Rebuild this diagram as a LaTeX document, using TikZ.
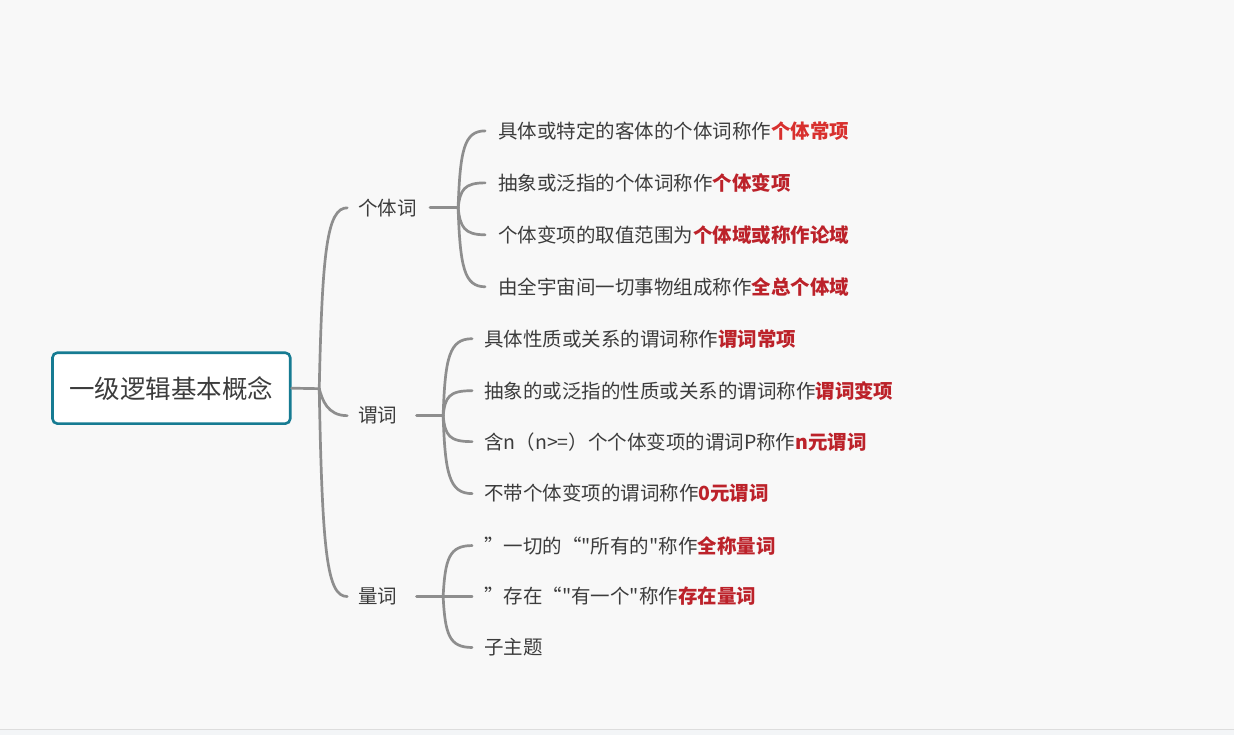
\documentclass[tikz,border=0pt]{standalone}
\usepackage{fontspec}
\setmainfont{Noto Sans CJK SC}[Ligatures=TeXOff]
\definecolor{bg}{HTML}{F8F8F8}
\definecolor{bar}{HTML}{F3F5F7}
\definecolor{barline}{HTML}{DDDDDD}
\definecolor{lineg}{HTML}{8E8E8E}
\definecolor{teal1}{HTML}{167B92}
\definecolor{txt}{HTML}{3C3C3C}
\definecolor{redA}{HTML}{D8302E}
\definecolor{redB}{HTML}{BC222A}
\newcommand\ra[1]{{\bfseries\color{redA}#1}}
\newcommand\rb[1]{{\bfseries\color{redB}#1}}
\begin{document}
\begin{tikzpicture}[x=1pt,y=-1pt,
  conn/.style={draw=lineg,line width=2.7pt,line cap=round},
  rootbox/.style={draw=teal1,line width=2.6pt,fill=white,rounded corners=5pt,minimum width=238pt,minimum height=71pt,font=\fontsize{25.5}{30}\selectfont,text=txt},
  topic/.style={anchor=west,inner xsep=11pt,inner ysep=2pt,font=\fontsize{19.5}{23}\selectfont,text=txt},
  leafA/.style={anchor=west,inner xsep=13pt,inner ysep=2pt,font=\fontsize{19.5}{23}\selectfont,text=txt},
  leafB/.style={anchor=west,inner xsep=12pt,inner ysep=2pt,font=\fontsize{19.5}{23}\selectfont,text=txt}]
\fill[bg] (0,0) rectangle (1234,736);
\fill[bar] (0,730) rectangle (1234,736);
\draw[barline,line width=1pt] (0,730.5) -- (1234,730.5);
\useasboundingbox (0,0) rectangle (1234,736);

\node[rootbox] (root) at (171,388.5) {一级逻辑基本概念};
\coordinate (j0) at (319,389);
\node[topic] (t1) at (347,208) {个体词};
\node[topic] (t2) at (347,416) {谓词};
\node[topic] (t3) at (347,597) {量词};

\draw[conn] (root.east) -- (j0);
\draw[conn] (j0) .. controls (322,250) and (327,208) .. (t1.west);
\draw[conn] (j0) .. controls (322,400) and (327,416) .. (t2.west);
\draw[conn] (j0) .. controls (322,555) and (327,597) .. (t3.west);

% group 1
\coordinate (j1) at (458,208);
\node[leafA] (a1) at (485,131) {具体或特定的客体的个体词称作\ra{个体常项}};
\node[leafA] (a2) at (485,183) {抽象或泛指的个体词称作\rb{个体变项}};
\node[leafA] (a3) at (485,235) {个体变项的取值范围为\rb{个体域或称作论域}};
\node[leafA] (a4) at (485,287) {由全宇宙间一切事物组成称作\rb{全总个体域}};
\draw[conn] ([xshift=2pt]t1.east) -- (j1);
\draw[conn] (j1) .. controls (460,150) and (464,131) .. (a1.west);
\draw[conn] (j1) .. controls (460,190) and (464,183) .. (a2.west);
\draw[conn] (j1) .. controls (460,227) and (464,235) .. (a3.west);
\draw[conn] (j1) .. controls (460,267) and (464,287) .. (a4.west);

% group 2
\coordinate (j2) at (443,416);
\node[leafB] (b1) at (472,339) {具体性质或关系的谓词称作\rb{谓词常项}};
\node[leafB] (b2) at (472,391) {抽象的或泛指的性质或关系的谓词称作\rb{谓词变项}};
\node[leafB] (b3) at (472,442) {含n（n>=）个个体变项的谓词P称作\rb{n元谓词}};
\node[leafB] (b4) at (472,494) {不带个体变项的谓词称作\rb{0元谓词}};
\draw[conn] ([xshift=8pt]t2.east) -- (j2);
\draw[conn] (j2) .. controls (445,358) and (449,339) .. (b1.west);
\draw[conn] (j2) .. controls (445,397) and (449,391) .. (b2.west);
\draw[conn] (j2) .. controls (445,436) and (449,442) .. (b3.west);
\draw[conn] (j2) .. controls (445,474) and (449,494) .. (b4.west);

% group 3
\coordinate (j3) at (443,597);
\node[leafB] (c1) at (472,546) {”一切的“"所有的"称作\rb{全称量词}};
\node[leafB] (c2) at (472,597) {”存在“"有一个"称作\rb{存在量词}};
\node[leafB] (c3) at (472,648) {子主题};
\draw[conn] ([xshift=8pt]t3.east) -- (j3);
\draw[conn] (j3) .. controls (445,559) and (449,546) .. (c1.west);
\draw[conn] (j3) -- (c2.west);
\draw[conn] (j3) .. controls (445,635) and (449,648) .. (c3.west);
\end{tikzpicture}
\end{document}
